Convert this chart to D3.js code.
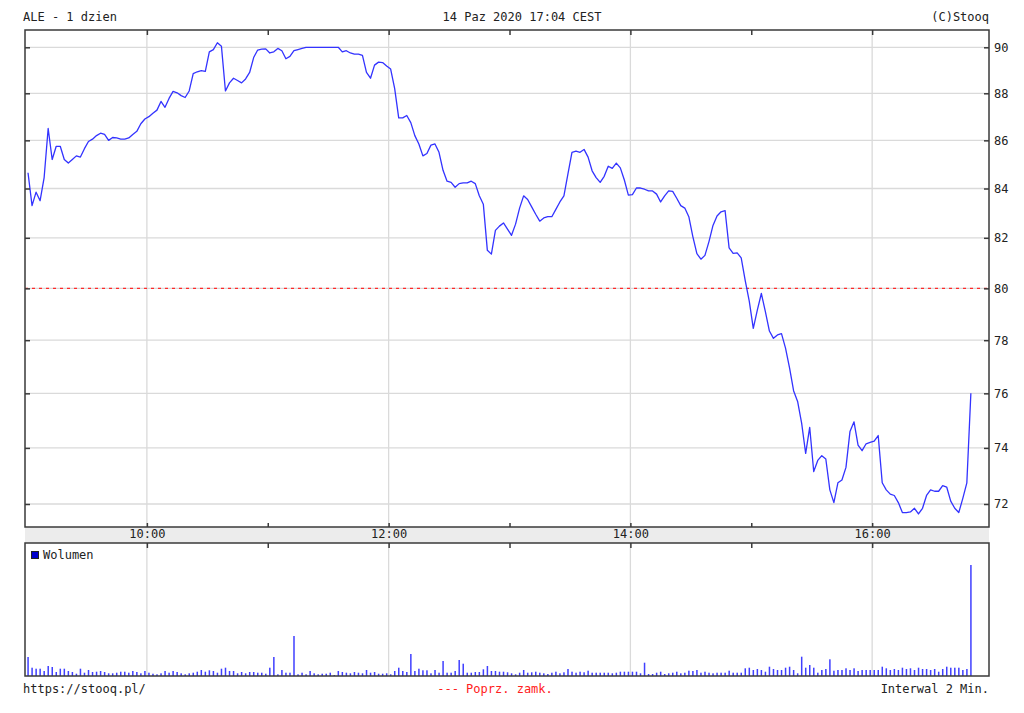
<!DOCTYPE html>
<html><head><meta charset="utf-8">
<script src="https://cdn.jsdelivr.net/npm/d3@7"></script>
<style>
html,body{margin:0;padding:0;background:#fff;}
text{font-family:"DejaVu Sans Mono",monospace;font-size:12px;fill:#222;}
</style></head>
<body>
<svg id="chart" width="1024" height="713"></svg>
<script>
// ---- data (2-minute bars, 9:01 .. 16:49) ----
const sessionStart = "2020-10-14T09:01:00";
const intervalMinutes = 2;
const prevClose = 80;
const priceTicks = [72, 74, 76, 78, 80, 82, 84, 86, 88, 90];
const hourTicks = [10, 11, 12, 13, 14, 15, 16];
const labelHours = [10, 12, 14, 16];
const prices = [
84.65, 83.3, 83.85, 83.5, 84.45, 86.5, 85.2, 85.75, 85.75, 85.2,
85.05, 85.2, 85.35, 85.3, 85.65, 85.95, 86.05, 86.2, 86.3, 86.25,
86.0, 86.12, 86.1, 86.05, 86.05, 86.1, 86.25, 86.38, 86.7, 86.9,
87.0, 87.15, 87.28, 87.65, 87.4, 87.78, 88.08, 88.02, 87.9, 87.82,
88.1, 88.85, 88.93, 88.98, 88.95, 89.8, 89.9, 90.2, 90.05, 88.1,
88.45, 88.65, 88.55, 88.45, 88.62, 88.9, 89.55, 89.88, 89.92, 89.93,
89.75, 89.8, 89.95, 89.85, 89.5, 89.6, 89.85, 89.9, 89.95, 90.0,
90.0, 90.0, 90.0, 90.0, 90.0, 90.0, 90.0, 90.0, 89.8, 89.85,
89.75, 89.7, 89.7, 89.65, 88.9, 88.65, 89.22, 89.35, 89.33, 89.18,
89.05, 88.2, 86.95, 86.95, 87.05, 86.75, 86.2, 85.85, 85.35, 85.45,
85.8, 85.85, 85.5, 84.75, 84.3, 84.25, 84.05, 84.2, 84.23, 84.23,
84.3, 84.2, 83.7, 83.36, 81.5, 81.35, 82.3, 82.47, 82.6, 82.35,
82.1, 82.55, 83.2, 83.7, 83.55, 83.25, 82.95, 82.67, 82.8, 82.85,
82.85, 83.15, 83.45, 83.7, 84.6, 85.5, 85.55, 85.5, 85.62, 85.3,
84.73, 84.45, 84.25, 84.5, 84.92, 84.83, 85.05, 84.85, 84.35, 83.73,
83.75, 84.02, 84.02, 83.97, 83.9, 83.9, 83.77, 83.45, 83.7, 83.9,
83.88, 83.6, 83.3, 83.2, 82.85, 82.05, 81.37, 81.15, 81.3, 81.85,
82.5, 82.88, 83.05, 83.1, 81.6, 81.38, 81.4, 81.2, 80.3, 79.5,
78.45, 79.15, 79.8, 79.1, 78.35, 78.07, 78.2, 78.25, 77.7, 76.95,
76.1, 75.7, 74.9, 73.8, 74.75, 73.15, 73.55, 73.72, 73.6, 72.5,
72.05, 72.75, 72.85, 73.3, 74.6, 74.95, 74.1, 73.9, 74.15, 74.2,
74.25, 74.45, 72.75, 72.5, 72.35, 72.3, 72.05, 71.7, 71.7, 71.72,
71.85, 71.65, 71.85, 72.3, 72.5, 72.45, 72.45, 72.65, 72.6, 72.1,
71.85, 71.7, 72.2, 72.75, 76.0
];
const volumes = [
19, 8.3, 7.3, 7.3, 5, 10, 9, 4, 7.3, 7.3,
5, 4, 2.3, 7.3, 3.3, 6, 4, 4.3, 5, 4,
2.7, 2.7, 3.3, 4.3, 4.3, 3.3, 5, 4, 2.7, 5,
3.3, 2.3, 1.7, 2.7, 5, 3.3, 5, 4, 2.7, 1.7,
2.7, 3.3, 4.3, 6, 4.3, 5.7, 5, 3.3, 7.3, 8.3,
5, 5, 2.7, 4, 2.7, 4, 4, 3.3, 3.3, 2.3,
8.3, 19, 1.7, 6, 3.3, 3.3, 40, 1.7, 3.3, 1.7,
5, 2.7, 1.7, 2.3, 2.3, 3.3, 1, 5, 4, 3.3,
2.7, 4, 3.3, 2.7, 6, 3.3, 4, 2.3, 2.3, 2.7,
1.7, 5, 8.3, 5, 4, 22, 5, 7.3, 5.7, 5.7,
2.7, 6, 3.3, 15, 3.3, 3.3, 5, 16, 12.3, 3.3,
3.3, 4, 4, 6.7, 10, 5, 5, 4.3, 4.3, 3.7,
2.7, 1.7, 3.3, 6, 3.3, 3.7, 4.3, 3.3, 2.7, 2,
3.3, 4.3, 2.7, 3.7, 7, 4.3, 3.3, 4.3, 3.7, 5.3,
3.3, 3.3, 3.3, 3.3, 3.3, 2.7, 3.3, 4.3, 4.3, 4.3,
4.3, 4.3, 2.7, 13.3, 2, 2, 3.3, 4.3, 2, 2.7,
3.3, 4.3, 2.7, 3.3, 5.3, 5, 6, 3.3, 4.3, 3.3,
2.7, 3.3, 3.3, 3.3, 5.3, 3.3, 3.3, 3.3, 7.7, 8.3,
6, 7, 6, 4.3, 9.3, 7, 6, 6, 8.3, 9.3,
6, 2.7, 19.3, 8.3, 11, 8.3, 3.3, 6, 7, 16.7,
5.3, 6, 6, 7.7, 6, 7.7, 5, 6, 6, 6,
6, 6, 9.3, 7.7, 6, 7, 6, 8.3, 7, 7.7,
6, 8.3, 7, 7, 6, 7, 4.3, 7, 9.3, 8.3,
8.3, 8.3, 6, 7, 111
];

// ---- build ----
const t0 = new Date(sessionStart);
const times = prices.map((_, i) => new Date(t0.getTime() + i * intervalMinutes * 60000));
const data = prices.map((p, i) => ({t: times[i], p: p, v: volumes[i]}));
const at = h => new Date(2020, 9, 14, h, 0, 0);

const L = 25, R = 989, T = 30, B1 = 527, B2 = 543, B3 = 676;

const x = d3.scaleTime().domain([at(9), new Date(2020, 9, 14, 16, 58)]).range([26, 989]);
const y = d3.scaleLog().domain([72, 90]).range([504, 47.3]);
const yv = d3.scaleLinear().domain([0, 133]).range([B3, B2]);

const svg = d3.select("#chart");
svg.append("rect").attr("width", 1024).attr("height", 713).attr("fill", "#fff");

const gridColor = "#dadada";
// horizontal price grid
svg.append("g").selectAll("line").data(priceTicks).join("line")
  .attr("x1", L).attr("x2", R).attr("y1", d => y(d)).attr("y2", d => y(d))
  .attr("stroke", gridColor).attr("stroke-width", 1.3);
// vertical grids
const vGrid = labelHours.map(at);
svg.append("g").selectAll("line").data(vGrid).join("line")
  .attr("x1", d => x(d)).attr("x2", d => x(d)).attr("y1", T).attr("y2", B1)
  .attr("stroke", gridColor).attr("stroke-width", 1.3);
svg.append("g").selectAll("line").data(vGrid).join("line")
  .attr("x1", d => x(d)).attr("x2", d => x(d)).attr("y1", B2).attr("y2", B3)
  .attr("stroke", gridColor).attr("stroke-width", 1.3);

// previous close line
svg.append("line").attr("x1", L).attr("x2", R)
  .attr("y1", y(prevClose)).attr("y2", y(prevClose))
  .attr("stroke", "#ff2a2a").attr("stroke-width", 1.4).attr("stroke-dasharray", "3,4");

// price line
svg.append("path").datum(data)
  .attr("fill", "none").attr("stroke", "#3333ff").attr("stroke-width", 1.3)
  .attr("stroke-linejoin", "round")
  .attr("d", d3.line().x(d => x(d.t)).y(d => y(d.p)));

// volume bars
svg.append("g").selectAll("rect").data(data).join("rect")
  .attr("x", d => x(d.t) - 0.7).attr("width", 1.5)
  .attr("y", d => yv(d.v)).attr("height", d => yv(0) - yv(d.v))
  .attr("fill", "#4040ff");

// time band
svg.append("rect").attr("x", L).attr("y", B1).attr("width", R - L).attr("height", B2 - B1)
  .attr("fill", "#ececec");

// frames
const frame = svg.append("g").attr("fill", "none").attr("stroke", "#3a3a3a").attr("stroke-width", 1.5);
frame.append("rect").attr("x", L).attr("y", T).attr("width", R - L).attr("height", B1 - T);
frame.append("rect").attr("x", L).attr("y", B2).attr("width", R - L).attr("height", B3 - B2);

const hourDates = hourTicks.map(at);
function styleAxis(g) {
  g.select(".domain").remove();
  g.selectAll(".tick line").attr("stroke", "#3a3a3a").attr("stroke-width", 1.5);
  g.selectAll("text").attr("font-family", "DejaVu Sans Mono").attr("font-size", 12).attr("fill", "#222");
}
// top ticks
svg.append("g").attr("transform", `translate(0,${T})`)
  .call(d3.axisTop(x).tickValues(hourDates).tickSize(-5).tickFormat(""))
  .call(styleAxis);
// band ticks
svg.append("g").attr("transform", `translate(0,${B1})`)
  .call(d3.axisTop(x).tickValues(hourDates).tickSize(4).tickFormat(""))
  .call(styleAxis);
svg.append("g").attr("transform", `translate(0,${B2})`)
  .call(d3.axisBottom(x).tickValues(hourDates).tickSize(5).tickFormat(""))
  .call(styleAxis);
// band labels
svg.append("g").attr("transform", `translate(0,${B1})`)
  .call(d3.axisBottom(x).tickValues(labelHours.map(at)).tickSize(0).tickPadding(2)
        .tickFormat(d3.timeFormat("%H:%M")))
  .call(styleAxis);
// price axis right
svg.append("g").attr("transform", `translate(${R},0)`)
  .call(d3.axisRight(y).tickValues(priceTicks).tickSize(-5).tickPadding(5).tickFormat(d3.format("d")))
  .call(styleAxis);
// left ticks
svg.append("g").attr("transform", `translate(${L},0)`)
  .call(d3.axisLeft(y).tickValues(priceTicks).tickSize(-5).tickFormat(""))
  .call(styleAxis);

// texts
svg.append("text").attr("x", 23).attr("y", 21).text("ALE - 1 dzien");
svg.append("text").attr("x", 522).attr("y", 21).attr("text-anchor", "middle").text("14 Paz 2020 17:04 CEST");
svg.append("text").attr("x", 989).attr("y", 21).attr("text-anchor", "end").text("(C)Stooq");
svg.append("text").attr("x", 23).attr("y", 693).text("https://stooq.pl/");
svg.append("text").attr("x", 495).attr("y", 693).attr("text-anchor", "middle").style("fill", "#ff2020").text("--- Poprz. zamk.");
svg.append("text").attr("x", 989).attr("y", 693).attr("text-anchor", "end").text("Interwal 2 Min.");

// volume legend
svg.append("rect").attr("x", 31.5).attr("y", 551.5).attr("width", 7).attr("height", 7)
  .attr("fill", "#0000cc").attr("stroke", "#222").attr("stroke-width", 1);
svg.append("text").attr("x", 43).attr("y", 559).text("Wolumen");
</script>
</body></html>
